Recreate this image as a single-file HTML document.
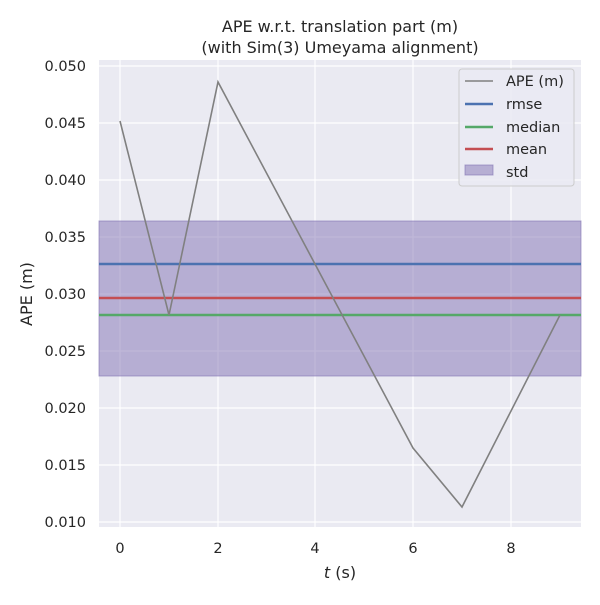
<!DOCTYPE html>
<html><head><meta charset="utf-8"><style>
body{margin:0;background:#fff;}
svg text{font-family:"DejaVu Sans","Liberation Sans",sans-serif;fill:#262626;}
</style></head><body>
<svg width="600" height="600" xmlns="http://www.w3.org/2000/svg">
<rect x="0" y="0" width="600" height="600" fill="#fff"/>
<rect x="99" y="60" width="482" height="467" fill="#eaeaf2"/>
<g stroke="#fff" stroke-width="1.2">
<line x1="120" y1="60" x2="120" y2="527"/>
<line x1="218" y1="60" x2="218" y2="527"/>
<line x1="315" y1="60" x2="315" y2="527"/>
<line x1="413" y1="60" x2="413" y2="527"/>
<line x1="511" y1="60" x2="511" y2="527"/>
<line x1="99" y1="66" x2="581" y2="66"/>
<line x1="99" y1="123" x2="581" y2="123"/>
<line x1="99" y1="180" x2="581" y2="180"/>
<line x1="99" y1="237" x2="581" y2="237"/>
<line x1="99" y1="294" x2="581" y2="294"/>
<line x1="99" y1="351" x2="581" y2="351"/>
<line x1="99" y1="408" x2="581" y2="408"/>
<line x1="99" y1="465" x2="581" y2="465"/>
<line x1="99" y1="522" x2="581" y2="522"/>
</g>
<rect x="99" y="221" width="482" height="155" fill="#8172b3" fill-opacity="0.5" stroke="#8172b3" stroke-opacity="0.6"/>
<line x1="99" y1="264" x2="581" y2="264" stroke="#4c72b0" stroke-width="2.5"/>
<line x1="99" y1="298" x2="581" y2="298" stroke="#c44e52" stroke-width="2.5"/>
<line x1="99" y1="315" x2="581" y2="315" stroke="#55a868" stroke-width="2.5"/>
<polyline points="120,121 169,315 218,82 413,448 462,507 560,315" fill="none" stroke="#808080" stroke-width="1.6"/>
<g font-size="14.5" text-anchor="end">
<text x="86" y="71">0.050</text><text x="86" y="128">0.045</text><text x="86" y="185">0.040</text>
<text x="86" y="242">0.035</text><text x="86" y="299">0.030</text><text x="86" y="356">0.025</text>
<text x="86" y="413">0.020</text><text x="86" y="470">0.015</text><text x="86" y="527">0.010</text>
</g>
<g font-size="14.5" text-anchor="middle">
<text x="120" y="553">0</text><text x="218" y="553">2</text><text x="315" y="553">4</text>
<text x="413" y="553">6</text><text x="511" y="553">8</text>
</g>
<text x="340" y="578" font-size="16" text-anchor="middle"><tspan font-style="italic">t</tspan> (s)</text>
<text x="32" y="294" font-size="16" text-anchor="middle" transform="rotate(-90 32 294)">APE (m)</text>
<text x="340" y="32" font-size="16" text-anchor="middle">APE w.r.t. translation part (m)</text>
<text x="340" y="53" font-size="16" text-anchor="middle">(with Sim(3) Umeyama alignment)</text>
<rect x="459" y="69" width="115" height="117" rx="3" fill="#eaeaf2" fill-opacity="0.8" stroke="#cccccc"/>
<g font-size="14.5">
<line x1="465" y1="81" x2="493" y2="81" stroke="#808080" stroke-width="1.6"/><text x="506" y="86">APE (m)</text>
<line x1="465" y1="104" x2="493" y2="104" stroke="#4c72b0" stroke-width="2.5"/><text x="506" y="109">rmse</text>
<line x1="465" y1="127" x2="493" y2="127" stroke="#55a868" stroke-width="2.5"/><text x="506" y="132">median</text>
<line x1="465" y1="149" x2="493" y2="149" stroke="#c44e52" stroke-width="2.5"/><text x="506" y="154">mean</text>
<rect x="465" y="165" width="28" height="10" fill="#8172b3" fill-opacity="0.5" stroke="#8172b3" stroke-opacity="0.6"/><text x="506" y="177">std</text>
</g>
</svg>
</body></html>
